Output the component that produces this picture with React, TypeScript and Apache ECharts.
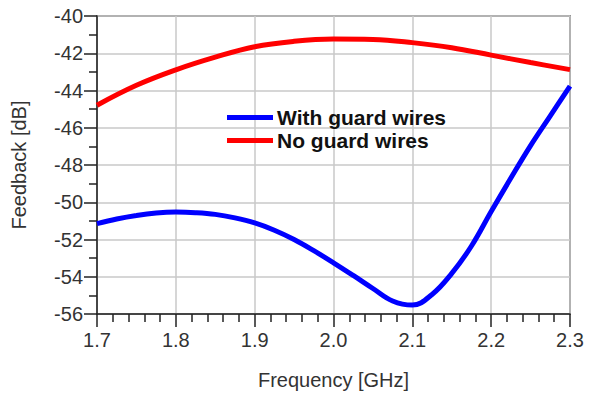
import React, { useEffect, useRef } from "react";
import * as echarts from "echarts";

const freqBlue = [1.7, 1.725, 1.75, 1.775, 1.8, 1.825, 1.85, 1.875, 1.9, 1.925, 1.95, 1.975, 2.0, 2.025, 2.05, 2.075, 2.1, 2.125, 2.15, 2.175, 2.2, 2.225, 2.25, 2.275, 2.3];
const withGuard = [-51.15, -50.9, -50.71, -50.58, -50.53, -50.56, -50.65, -50.84, -51.11, -51.5, -52.0, -52.6, -53.25, -53.93, -54.63, -55.3, -55.52, -54.95, -53.82, -52.35, -50.5, -48.7, -46.96, -45.36, -43.77];
const freqRed = [1.7, 1.75, 1.8, 1.85, 1.9, 1.95, 2.0, 2.05, 2.1, 2.15, 2.2, 2.25, 2.3];
const noGuard = [-44.79, -43.72, -42.89, -42.21, -41.65, -41.36, -41.24, -41.26, -41.43, -41.7, -42.1, -42.5, -42.88];
const seriesNames = ["With guard wires", "No guard wires"];

export default function App() {
  const ref = useRef<HTMLDivElement>(null);
  useEffect(() => {
    const chart = echarts.init(ref.current!, undefined, { renderer: "svg" });
    const font = "'Liberation Sans', Arial, sans-serif";
    chart.setOption({
      animation: false,
      backgroundColor: "#fff",
      grid: {
        left: 97,
        right: 30,
        top: 16,
        bottom: 78,
        show: true,
        borderColor: "#444",
        borderWidth: 1.5,
        backgroundColor: "transparent",
      },
      legend: {
        orient: "vertical",
        left: 222,
        top: 102,
        itemWidth: 46,
        itemHeight: 5,
        itemGap: 2,
        icon: "rect",
        textStyle: { fontFamily: font, fontSize: 21, fontWeight: "bold", color: "#111", padding: [0, 0, 0, -1] },
        data: seriesNames,
      },
      xAxis: {
        type: "value",
        min: 1.7,
        max: 2.3,
        interval: 0.1,
        name: "Frequency [GHz]",
        nameLocation: "middle",
        nameGap: 56,
        nameTextStyle: { fontFamily: font, fontSize: 20, color: "#333" },
        axisLine: { show: true, lineStyle: { color: "#222", width: 1.5 } },
        axisTick: { show: true, inside: false, length: 13, lineStyle: { color: "#222", width: 1.5 } },
        minorTick: { show: true, splitNumber: 5, length: 8, lineStyle: { color: "#222", width: 1.5 } },
        splitLine: { show: true, lineStyle: { color: "#c8c8c8", width: 1.5 } },
        axisLabel: {
          fontFamily: font,
          fontSize: 20,
          color: "#333",
          margin: 16,
          formatter: (v: number) => v.toFixed(1),
        },
      },
      yAxis: {
        type: "value",
        min: -56,
        max: -40,
        interval: 2,
        name: "Feedback [dB]",
        nameLocation: "middle",
        nameGap: 68,
        nameTextStyle: { fontFamily: font, fontSize: 20, color: "#333" },
        axisLine: { show: true, lineStyle: { color: "#222", width: 1.5 } },
        axisTick: { show: true, inside: false, length: 13, lineStyle: { color: "#222", width: 1.5 } },
        minorTick: { show: true, splitNumber: 2, length: 8, lineStyle: { color: "#222", width: 1.5 } },
        splitLine: { show: true, lineStyle: { color: "#c8c8c8", width: 1.5 } },
        axisLabel: { fontFamily: font, fontSize: 20, color: "#333", margin: 14 },
      },
      series: [
        {
          name: seriesNames[0],
          type: "line",
          smooth: 0.4,
          showSymbol: false,
          color: "#0000ff",
          lineStyle: { width: 5, color: "#0000ff" },
          data: freqBlue.map((f, i) => [f, withGuard[i]]),
        },
        {
          name: seriesNames[1],
          type: "line",
          smooth: 0.4,
          showSymbol: false,
          color: "#ff0000",
          lineStyle: { width: 5, color: "#ff0000" },
          data: freqRed.map((f, i) => [f, noGuard[i]]),
        },
      ],
    });
    return () => chart.dispose();
  }, []);
  return <div ref={ref} style={{ width: 600, height: 395, position: "absolute", left: 0, top: 0 }} />;
}
